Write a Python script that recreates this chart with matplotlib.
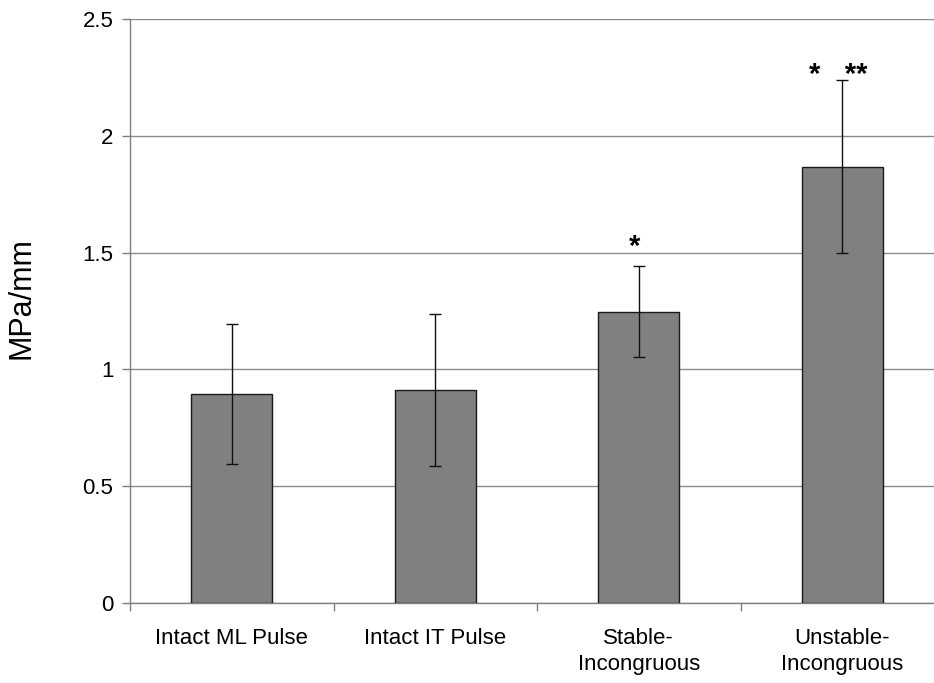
import numpy as np
import matplotlib.pyplot as plt

plt.rcParams['font.family'] = ['Liberation Sans', 'DejaVu Sans']

groups = ["Intact ML Pulse", "Intact IT Pulse", "Stable-\nIncongruous", "Unstable-\nIncongruous"]
means = [0.895, 0.911, 1.247, 1.868]
errs = [0.30, 0.325, 0.196, 0.37]
marks = ["", "", "*", "*   **"]
mark_y = [0, 0, 1.465, 2.20]

fig = plt.figure(figsize=(9.34, 6.83), dpi=100)
ax = fig.add_axes([130 / 934, 80 / 683, 814 / 934, 584 / 683])

x = np.arange(len(groups))
ax.bar(x, means, width=0.4, color="#808080", edgecolor="#1a1a1a", linewidth=1, zorder=3)
ax.errorbar(x, means, yerr=errs, fmt="none", ecolor="#111111", elinewidth=1,
            capsize=4, capthick=1, zorder=4)

for xi, m, my in zip(x, marks, mark_y):
    if m:
        ax.text(xi - 0.02, my, m, ha="center", va="bottom", fontsize=21,
                fontweight="bold", zorder=5)

ax.set_xlim(-0.5, len(groups) - 0.5)
ax.set_ylim(0, 2.5)
ax.set_yticks(np.arange(0, 2.51, 0.5))
ax.set_yticklabels(["0", "0.5", "1", "1.5", "2", "2.5"])
ax.yaxis.grid(True, color="#8c8c8c", linewidth=1, zorder=0)

ax.set_xticks(x)
ax.set_xticklabels(groups, fontsize=16, linespacing=1.3)
ax.set_xticks(np.arange(-0.5, len(groups), 1.0), minor=True)
ax.tick_params(axis="x", which="major", length=0, pad=18)
ax.tick_params(axis="x", which="minor", length=6, color="#808080", width=1)
ax.tick_params(axis="y", length=6, color="#808080", width=1, labelsize=16, pad=6)

for side in ["top", "right"]:
    ax.spines[side].set_visible(False)
for side in ["left", "bottom"]:
    ax.spines[side].set_color("#808080")
    ax.spines[side].set_linewidth(1)

ax.set_ylabel("MPa/mm", fontsize=22)
ax.yaxis.set_label_coords(-0.115, 0.522)

fig.savefig("out.png", dpi=100)
